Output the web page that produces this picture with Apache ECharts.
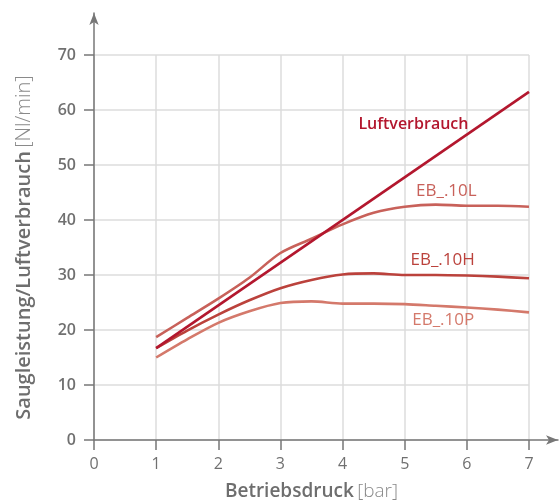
<!DOCTYPE html>
<html><head><meta charset="utf-8">
<script src="https://cdn.jsdelivr.net/npm/echarts@6/dist/echarts.min.js"></script>
<style>html,body{margin:0;padding:0;background:#fff}#c{width:560px;height:503px}</style>
</head><body><div id="c"></div>
<script>
const pressure = [1, 1.5, 2, 2.5, 3, 3.5, 4, 4.5, 5, 5.5, 6, 6.5, 7];
const eb10L = [18.7, 22.2, 25.7, 29.5, 34.0, 36.6, 39.2, 41.3, 42.4, 42.8, 42.6, 42.6, 42.4];
const eb10H = [16.7, 19.9, 22.8, 25.4, 27.6, 29.1, 30.1, 30.3, 30.0, 30.0, 29.9, 29.7, 29.4];
const eb10P = [15.0, 18.3, 21.3, 23.4, 24.9, 25.2, 24.8, 24.8, 24.7, 24.4, 24.1, 23.7, 23.2];
const luftX = [1, 7];
const luftY = [16.7, 63.3];
const xTicks = [0, 1, 2, 3, 4, 5, 6, 7];
const yTicks = [0, 10, 20, 30, 40, 50, 60, 70];
const labels = [
  {name: 'Luftverbrauch', at: [5.14, 57.3]},
  {name: 'EB_.10L', at: [5.67, 45.3]},
  {name: 'EB_.10H', at: [5.61, 32.7]},
  {name: 'EB_.10P', at: [5.62, 21.8]}
];

const FONT = '"Open Sans", sans-serif';
const colors = {luft: '#b3172e', L: '#c8615a', H: '#bb423c', P: '#d4796b'};
const pair = (xs, ys) => xs.map((x, i) => [x, ys[i]]);
function mk(label, color, weight, size) {
  return {
    symbol: 'rect',
    symbolSize: 1,
    silent: true,
    itemStyle: {color: 'rgba(0,0,0,0)'},
    data: [{coord: label.at, value: label.name}],
    label: {show: true, position: 'inside', formatter: label.name, color: color,
      fontFamily: FONT, fontSize: size, fontWeight: weight}
  };
}
function line(name, data, color, lbl, weight, size) {
  return {
    type: 'line', name: name, data: data, smooth: 0.3, showSymbol: false,
    xAxisIndex: 0, yAxisIndex: 0,
    lineStyle: {color: color, width: 2.6}, itemStyle: {color: color},
    markPoint: mk(lbl, color, weight, size), z: 3
  };
}
const chart = echarts.init(document.getElementById('c'), null, {renderer: 'canvas'});
const axisColor = '#777777';
chart.setOption({
  animation: false,
  grid: [
    {left: 94, right: 31, top: 55, bottom: 63, containLabel: false, outerBoundsMode: 'none'},
    {left: 94, right: 2, top: 13, bottom: 63, containLabel: false, outerBoundsMode: 'none'}
  ],
  xAxis: [
    {type: 'value', gridIndex: 0, min: xTicks[0], max: xTicks[xTicks.length - 1], interval: 1,
     axisLine: {show: false},
     axisTick: {show: true, length: 10, lineStyle: {color: axisColor, width: 1.5}},
     axisLabel: {color: '#707070', fontFamily: FONT, fontSize: 16, fontWeight: 500, margin: 16},
     splitLine: {show: true, lineStyle: {color: '#dcdcdc', width: 1.5}},
     name: '{b|Betriebsdruck} {l|[bar]}', nameLocation: 'middle', nameGap: 42,
     nameTextStyle: {rich: {
       b: {fontFamily: FONT, fontSize: 19, fontWeight: 600, color: '#6e6e6e'},
       l: {fontFamily: FONT, fontSize: 19, fontWeight: 300, color: '#8a8a8a'}}}
    },
    {type: 'value', gridIndex: 1, min: 0, max: 1,
     axisLine: {show: true, symbol: ['none', 'arrow'], symbolSize: [7, 12], lineStyle: {color: axisColor, width: 1.5}},
     axisTick: {show: false}, axisLabel: {show: false}, splitLine: {show: false}}
  ],
  yAxis: [
    {type: 'value', gridIndex: 0, min: yTicks[0], max: yTicks[yTicks.length - 1], interval: 10,
     axisLine: {show: false},
     axisTick: {show: true, length: 10, lineStyle: {color: axisColor, width: 1.5}},
     axisLabel: {color: '#707070', fontFamily: FONT, fontSize: 16, fontWeight: 600, margin: 18},
     splitLine: {show: true, lineStyle: {color: '#dcdcdc', width: 1.5}},
     name: '{b|Saugleistung/Luftverbrauch} {l|[Nl/min]}', nameLocation: 'middle', nameGap: 60,
     nameTextStyle: {rich: {
       b: {fontFamily: FONT, fontSize: 20, fontWeight: 600, color: '#6e6e6e'},
       l: {fontFamily: FONT, fontSize: 20, fontWeight: 300, color: '#8a8a8a'}}}
    },
    {type: 'value', gridIndex: 1, min: 0, max: 1,
     axisLine: {show: true, symbol: ['none', 'arrow'], symbolSize: [7, 12], lineStyle: {color: axisColor, width: 1.5}},
     axisTick: {show: false}, axisLabel: {show: false}, splitLine: {show: false}}
  ],
  series: [
    line('EB_.10P', pair(pressure, eb10P), colors.P, labels[3], 500, 17),
    line('EB_.10H', pair(pressure, eb10H), colors.H, labels[2], 500, 17),
    line('EB_.10L', pair(pressure, eb10L), colors.L, labels[1], 500, 17),
    Object.assign(line('Luftverbrauch', pair(luftX, luftY), colors.luft, labels[0], 600, 16), {smooth: false, z: 4})
  ]
});
</script></body></html>
